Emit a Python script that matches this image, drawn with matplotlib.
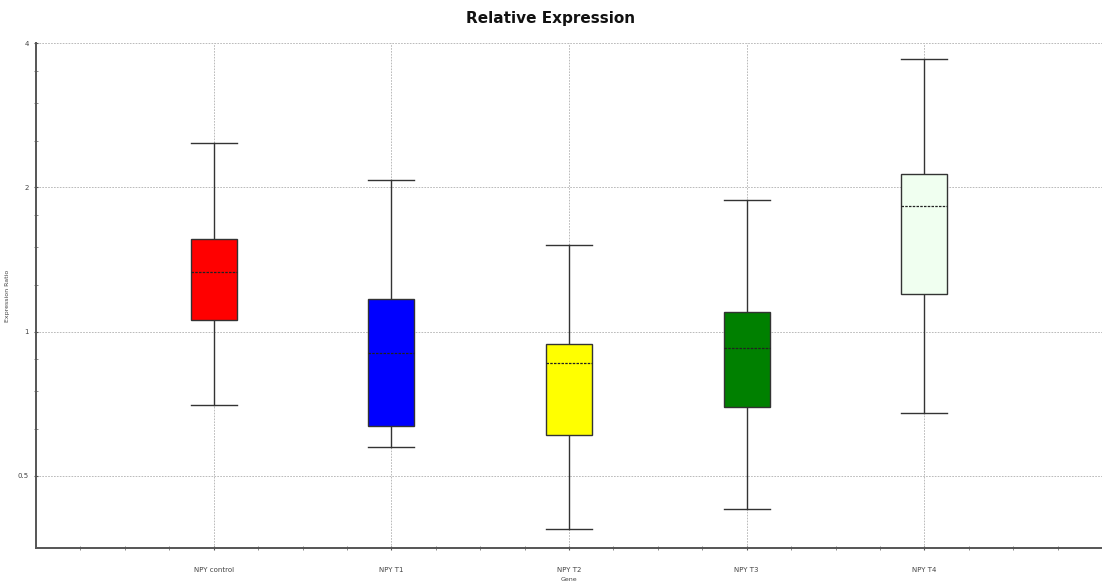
import matplotlib
matplotlib.use("Agg")
import matplotlib.pyplot as plt
from matplotlib.ticker import FixedLocator, NullFormatter

genes = ["NPY control", "NPY T1", "NPY T2", "NPY T3", "NPY T4"]
whisker_low = [0.703, 0.573, 0.388, 0.426, 0.675]
q1 = [1.059, 0.636, 0.608, 0.697, 1.199]
median = [1.330, 0.903, 0.860, 0.925, 1.828]
q3 = [1.557, 1.170, 0.941, 1.097, 2.136]
whisker_high = [2.475, 2.076, 1.518, 1.885, 3.698]
box_colors = ["#FF0000", "#0000FF", "#FFFF00", "#008000", "#F0FFF0"]
y_major = [0.5, 1, 2, 4]
y_major_labels = ["0.5", "1", "2", "4"]
y_minor = [0.625, 0.75, 0.875, 1.25, 1.5, 1.75, 2.5, 3, 3.5]

fig = plt.figure(figsize=(11.02, 5.86), dpi=100)
ax = fig.add_axes([36 / 1102, 1 - 548 / 586, 1066 / 1102, (548 - 43) / 586])

positions = list(range(1, len(genes) + 1))
stats = []
for i, g in enumerate(genes):
    stats.append(dict(label=g, whislo=whisker_low[i], q1=q1[i], med=median[i],
                      q3=q3[i], whishi=whisker_high[i], fliers=[]))

ax.set_yscale("log", base=2)
ax.set_ylim(0.5 / 2 ** 0.5, 4)
ax.set_xlim(0, 6)

ax.grid(True, which="major", color="#b0b0b0", linestyle=(0, (2, 1.5)), linewidth=0.6, zorder=0)
ax.set_axisbelow(True)

bp = ax.bxp(stats, positions=positions, widths=0.26, patch_artist=True,
            showfliers=False, capwidths=0.26,
            boxprops=dict(edgecolor="#333333", linewidth=1.0),
            whiskerprops=dict(color="#333333", linewidth=1.0),
            capprops=dict(color="#333333", linewidth=1.0),
            medianprops=dict(color="#222222", linewidth=0.9, linestyle=(0, (2, 1))))
for patch, c in zip(bp["boxes"], box_colors):
    patch.set_facecolor(c)
    patch.set_zorder(3)
for m in bp["medians"]:
    m.set_zorder(4)

ax.yaxis.set_major_locator(FixedLocator(y_major))
ax.set_yticklabels(y_major_labels)
ax.yaxis.set_minor_locator(FixedLocator(y_minor))
ax.yaxis.set_minor_formatter(NullFormatter())
ax.set_xticks(positions)
ax.set_xticklabels(genes)
ax.set_xticks([p + d for p in range(0, 6) for d in (0.25, 0.5, 0.75)], minor=True)

ax.tick_params(axis="both", which="major", labelsize=5, length=3, width=0.8,
               color="#555555", labelcolor="#444444", direction="inout")
ax.tick_params(axis="both", which="minor", length=2.5, width=0.6, color="#777777",
               direction="inout")
ax.tick_params(axis="x", which="major", pad=12)

for s in ["top", "right"]:
    ax.spines[s].set_visible(False)
for s in ["left", "bottom"]:
    ax.spines[s].set_color("#555555")
    ax.spines[s].set_linewidth(1.4)

ax.set_ylabel("Expression Ratio", fontsize=4.5, color="#444444", labelpad=6)
ax.set_xlabel("Gene", fontsize=4.5, color="#444444", labelpad=3)
fig.text(0.5, 1 - 19 / 586, "Relative Expression", ha="center", va="center",
         fontsize=11, fontweight="bold", color="#111111")

fig.savefig("out.png", dpi=100)
